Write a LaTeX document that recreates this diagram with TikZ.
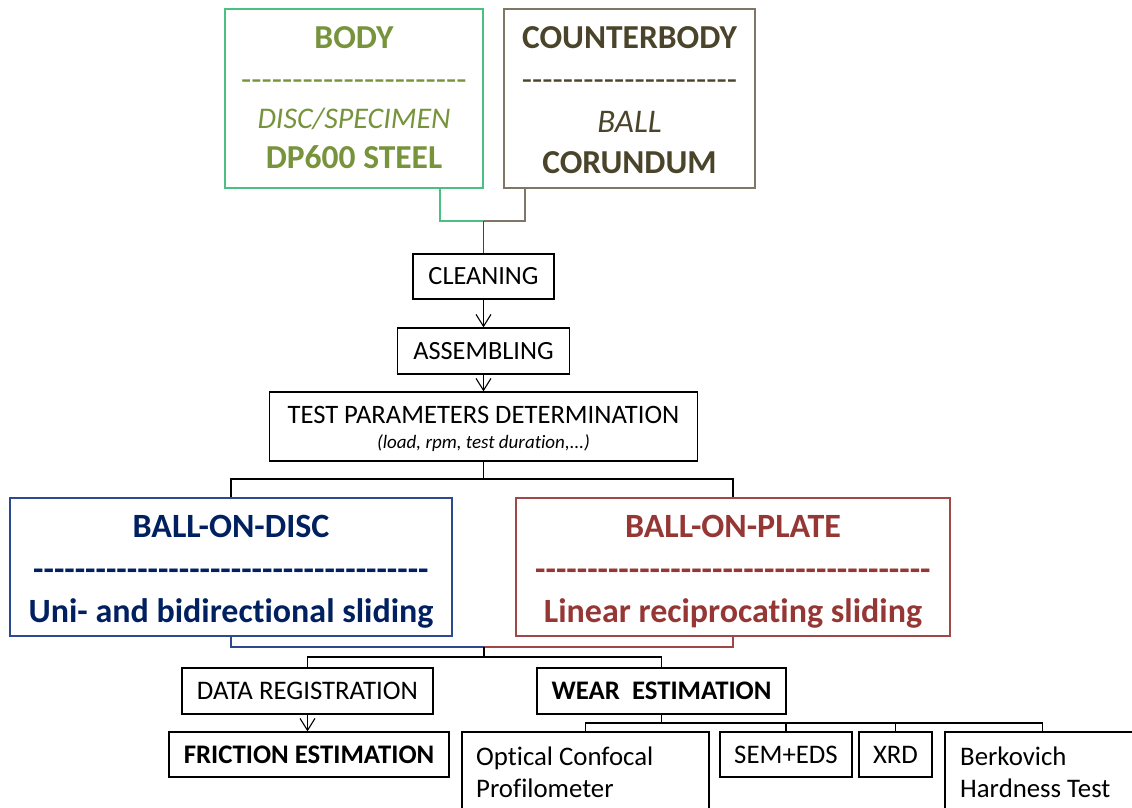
\documentclass[tikz,border=0pt]{standalone}
\usepackage{fontspec}
\setmainfont{Carlito}[Ligatures=NoCommon]
\usetikzlibrary{arrows.meta}
\definecolor{bodyline}{HTML}{4CC080}
\definecolor{bodytext}{HTML}{77933C}
\definecolor{cbline}{HTML}{7F7665}
\definecolor{cbtext}{HTML}{4A452A}
\definecolor{discline}{HTML}{2E4A8E}
\definecolor{disctext}{HTML}{002060}
\definecolor{plateline}{HTML}{A04848}
\definecolor{platetext}{HTML}{953735}
\newcommand{\fs}[1]{\fontsize{#1}{#1}\selectfont}
\newcommand{\hyrow}[1]{\foreach \k in {1,...,#1}{-\kern0pt}}
\begin{document}
\begin{tikzpicture}[x=1pt,y=-1pt,
  box/.style={draw, line width=1.2pt, inner sep=0pt, rectangle},
  conn/.style={line width=1.2pt},
  arr/.style={line width=1.2pt, -{Straight Barb[length=12pt,width=15pt,line width=1.1pt]}},
  txt/.style={inner sep=0pt, anchor=base},
  ltxt/.style={inner sep=0pt, anchor=base west, font=\fs{26.8}},
  big/.style={font=\fs{33.5}\bfseries},
  mid/.style={font=\fs{26.3}},
  low/.style={font=\fs{26.8}},
]
\useasboundingbox (0,0) rectangle (1132,807);
\fill[white] (0,0) rectangle (1132,807);
\clip (0,0) rectangle (1132,807);

% top boxes
\node[box, draw=bodyline, minimum width=258pt, minimum height=179pt] (body) at (354,98.5) {};
\node[txt, big, text=bodytext] (bodyt1) at (354,48) {BODY};
\node[txt, font=\fs{33.5}, text=bodytext] (bodyt2) at (354,90) {\hyrow{22}};
\node[txt, font=\fs{30}\itshape, text=bodytext] (bodyt3) at (354,128) {DISC/SPECIMEN};
\node[txt, big, text=bodytext] (bodyt4) at (354,168) {DP600 STEEL};

\node[box, draw=cbline, minimum width=251pt, minimum height=179pt] (cb) at (629.5,98.5) {};
\node[txt, big, text=cbtext] (cbt1) at (629.5,48) {COUNTERBODY};
\node[txt, font=\fs{33.5}, text=cbtext] (cbt2) at (629.5,90) {\hyrow{21}};
\node[txt, font=\fs{33}\itshape, text=cbtext] (cbt3) at (629.5,132) {BALL};
\node[txt, big, text=cbtext] (cbt4) at (629.5,173) {CORUNDUM};

% process boxes
\node[box, mid, minimum width=141pt, minimum height=45pt] (clean) at (483.5,276.5) {CLEANING};
\node[box, mid, minimum width=172pt, minimum height=46pt] (assem) at (483.5,351) {ASSEMBLING};
\node[box, minimum width=428pt, minimum height=69pt] (test) at (483.5,426.5) {};
\node[txt, font=\fs{26.6}] (testt1) at (483.5,423) {TEST PARAMETERS DETERMINATION};
\node[txt, font=\fs{19}\itshape] (testt2) at (483.5,448) {(load, rpm, test duration,...)};

% method boxes
\node[box, draw=discline, minimum width=442pt, minimum height=138pt] (disc) at (231,567) {};
\node[txt, font=\fs{34}\bfseries, text=disctext] (disct1) at (231,537) {BALL-ON-DISC};
\node[txt, font=\fs{34}\bfseries, text=disctext] (disct2) at (231,580) {\hyrow{38}};
\node[txt, font=\fs{34}\bfseries, text=disctext] (disct3) at (231,622) {Uni- and bidirectional sliding};

\node[box, draw=plateline, minimum width=434pt, minimum height=138pt] (plate) at (733,567) {};
\node[txt, font=\fs{34}\bfseries, text=platetext] (platet1) at (733,537) {BALL-ON-PLATE};
\node[txt, font=\fs{34}\bfseries, text=platetext] (platet2) at (733,580) {\hyrow{38}};
\node[txt, font=\fs{34}\bfseries, text=platetext] (platet3) at (733,622) {Linear reciprocating sliding};

% analysis boxes
\node[box, low, minimum width=251pt, minimum height=46pt] (data) at (307.5,691) {DATA REGISTRATION};
\node[box, font=\fs{26.8}\bfseries, minimum width=249pt, minimum height=46pt] (wear) at (661.5,691) {WEAR\ \ ESTIMATION};
\node[box, font=\fs{26.8}\bfseries, minimum width=280pt, minimum height=45pt] (fric) at (309,754.5) {FRICTION ESTIMATION};
\node[box, minimum width=247pt, minimum height=98pt] (opt) at (585.5,781) {};
\node[ltxt] (optt1) at (476,765) {Optical Confocal};
\node[ltxt] (optt2) at (476,797) {Profilometer};
\node[box, low, minimum width=132pt, minimum height=45pt] (sem) at (786,754.5) {SEM+EDS};
\node[box, low, minimum width=73pt, minimum height=45pt] (xrd) at (895.5,754.5) {XRD};
\node[box, minimum width=195pt, minimum height=98pt] (berk) at (1042.5,781) {};
\node[ltxt] (berkt1) at (960,765) {Berkovich};
\node[ltxt] (berkt2) at (960,797) {Hardness Test};

% connectors
\coordinate (j1) at (483.5,221);
\draw[conn, bodyline] ([xshift=86pt]body.south) |- (j1);
\draw[conn, cbline] ([xshift=-104.5pt]cb.south) |- (j1);
\draw[conn, cbtext] (j1) -- (clean.north);
\draw[arr] (clean) -- (assem);
\draw[arr] (assem) -- (test);

\coordinate (j2) at (483.5,479);
\draw[conn] (test.south) -- (j2);
\draw[conn] (disc.north) |- (j2) -| (plate.north);

\coordinate (j3) at (484,647);
\coordinate (j4) at (484,657);
\draw[conn, discline] (disc.south) |- (j3);
\draw[conn, plateline] (plate.south) |- (j3);
\draw[conn] (j3) -- (j4);
\draw[conn] (data.north) |- (j4) -| (wear.north);
\draw[arr] (data.south) -- (data.south |- fric.north);

\coordinate (j5) at (661.5,723);
\draw[conn] (wear.south) -- (j5);
\draw[conn] (opt.north) |- (j5) -| (berk.north);
\draw[conn] (sem.north) -- (sem.north |- j5);
\draw[conn] (xrd.north) -- (xrd.north |- j5);
\end{tikzpicture}
\end{document}
